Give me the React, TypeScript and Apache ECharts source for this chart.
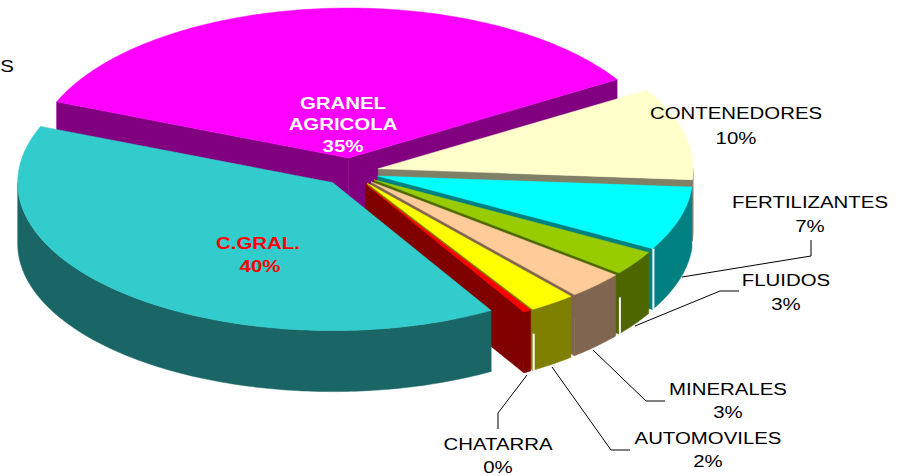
import React, { useEffect, useRef } from "react";
import * as echarts from "echarts";

const categories = ["GRANEL AGRICOLA", "CONTENEDORES", "FERTILIZANTES", "FLUIDOS", "MINERALES", "AUTOMOVILES", "CHATARRA", "C.GRAL."];
const values = [35.3, 10, 7, 2.7, 3, 2.4, 0.4, 39.7];
const topColors = ["#FF00FF", "#FFFFCC", "#00FFFF", "#99CC00", "#FFCC99", "#FFFF00", "#FF0000", "#33CCCC"];
const sideColors = ["#800080", "#808066", "#008080", "#4D6600", "#806650", "#808000", "#800000", "#1A6666"];

const total = values.reduce((a, b) => a + b, 0);
const pct = (i: number) => Math.round((values[i] / total) * 100) + "%";

const CX = 351, CY = 172, RX = 315, RY_BACK = 150, RY_FRONT = 148, DEPTH = 61, EXPLODE = 28, START = -68;
const rad = (d: number) => (d * Math.PI) / 180;

function ringPoint(deg: number, ox: number, oy: number, dz = 0): number[] {
  const c = Math.cos(rad(deg));
  return [ox + RX * Math.sin(rad(deg)), oy - c * (c > 0 ? RY_BACK : RY_FRONT) + dz];
}

// share of the wall's end edge, measured from the bottom, that shows a light seam
const seamShare = [0, 0, 1, 0.6, 0, 0.6, 0, 0];

function renderSlice(params: any, api: any) {
  const i = params.dataIndex;
  const before = values.slice(0, i).reduce((a, b) => a + b, 0);
  const a0 = START + (before / total) * 360;
  const a1 = a0 + (api.value(0) / total) * 360;
  const mid = (a0 + a1) / 2;
  const ox = CX + EXPLODE * Math.sin(rad(mid));
  const oy = CY - (EXPLODE * Math.cos(rad(mid))) / 2;
  const top = topColors[i], side = sideColors[i];
  const children: any[] = [];
  const poly = (points: number[][], fill: string) =>
    children.push({ type: "polygon", shape: { points }, style: { fill, stroke: fill, lineWidth: 0.5 } });
  const cut = (deg: number) => {
    const p = ringPoint(deg, ox, oy);
    poly([[ox, oy], p, [p[0], p[1] + DEPTH], [ox, oy + DEPTH]], side);
  };
  // cut faces turned to the viewer
  if (Math.sin(rad(a0)) < 0) cut(a0);
  if (Math.sin(rad(a1)) > 0) cut(a1);
  // outer wall: only the near half of the rim shows
  const from = Math.max(a0, 90), to = Math.min(a1, 270);
  if (to > from) {
    const upper: number[][] = [], lower: number[][] = [];
    const n = Math.max(2, Math.ceil(to - from));
    for (let k = 0; k <= n; k++) {
      const d = from + ((to - from) * k) / n;
      upper.push(ringPoint(d, ox, oy));
      lower.unshift(ringPoint(d, ox, oy, DEPTH));
    }
    poly(upper.concat(lower), side);
  }
  // top face
  const pts: number[][] = [[ox, oy]];
  const steps = Math.max(2, Math.ceil(a1 - a0));
  for (let k = 0; k <= steps; k++) pts.push(ringPoint(a0 + ((a1 - a0) * k) / steps, ox, oy));
  poly(pts, top);
  if (seamShare[i] > 0) {
    const p = ringPoint(a1, ox, oy);
    const x = p[0] + 1;
    children.push({
      type: "line",
      shape: { x1: x, y1: p[1] + DEPTH * (1 - seamShare[i]), x2: x, y2: p[1] + DEPTH },
      style: { stroke: "#fff", lineWidth: 2 },
      z2: 5,
    });
  }
  return { type: "group", children };
}

const FONT = '17px "Liberation Sans", Arial, sans-serif';
const BOLD = 'bold 17px "Liberation Sans", Arial, sans-serif';
const label = (text: string, x: number, y: number, fill = "#000", font = FONT, scaleX = 1.2) => ({
  type: "text", x, y, scaleX, z: 20,
  style: { text, x: 0, y: 0, font, fill, align: "center", verticalAlign: "middle" },
});
const leader = (points: number[][]) => ({
  type: "polyline", z: 19, shape: { points }, style: { stroke: "#000", lineWidth: 1, fill: "none" },
});

export default function App() {
  const ref = useRef<HTMLDivElement>(null);
  useEffect(() => {
    const chart = echarts.init(ref.current!, null, { renderer: "svg" });
    chart.setOption({
      animation: false,
      backgroundColor: "#fff",
      series: [{
        type: "custom",
        coordinateSystem: "none",
        renderItem: renderSlice,
        data: values.map((v, i) => ({ name: categories[i], value: [v] })),
        clip: false,
      }],
      graphic: [
        label("S", 7, 66),
        label("GRANEL", 343, 103, "#fff", BOLD, 1.2),
        label("AGRICOLA", 343, 124, "#fff", BOLD, 1.2),
        label(pct(0), 343, 146, "#fff", BOLD, 1.2),
        label(categories[7], 258, 243, "#FF0000", BOLD, 1.2),
        label(pct(7), 260, 266, "#FF0000", BOLD, 1.2),
        label(categories[1], 736, 113),
        label(pct(1), 736, 138),
        label(categories[2], 810, 202),
        label(pct(2), 810, 226),
        label(categories[3], 786, 280),
        label(pct(3), 786, 304),
        label(categories[4], 728, 389),
        label(pct(4), 728, 412),
        label(categories[5], 708, 438),
        label(pct(5), 708, 461),
        label(categories[6], 498, 444),
        label(pct(6), 498, 467),
        leader([[682, 277], [811, 256], [811, 240]]),
        leader([[635, 326], [720, 291], [739, 291]]),
        leader([[593, 350], [646, 401], [665, 401]]),
        leader([[552, 367], [611, 450], [630, 450]]),
        leader([[527, 375], [498, 413], [498, 429]]),
      ],
    });
    return () => chart.dispose();
  }, []);
  return <div ref={ref} style={{ position: "absolute", left: 0, top: 0, width: 906, height: 476 }} />;
}
